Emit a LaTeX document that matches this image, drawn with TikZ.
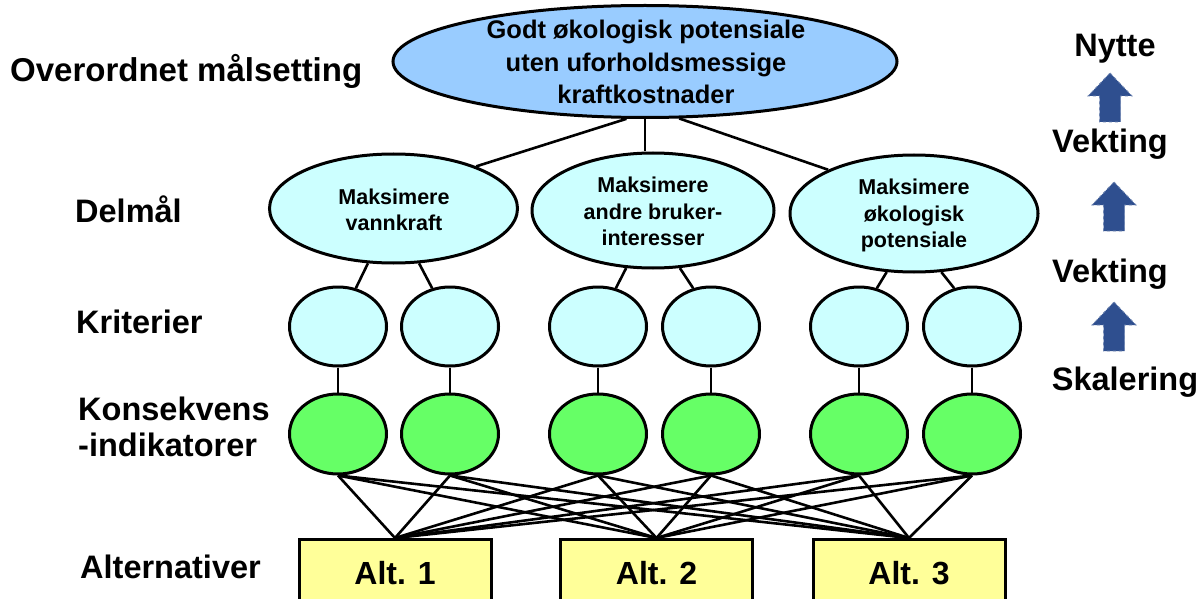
\documentclass[tikz,border=0pt]{standalone}
\usepackage{fontspec}
\setmainfont{Liberation Sans}
\usetikzlibrary{shapes.geometric}
\definecolor{topblue}{HTML}{99CCFF}
\definecolor{lightcyan}{HTML}{CCFFFF}
\definecolor{nodegreen}{HTML}{66FF66}
\definecolor{altyellow}{HTML}{FFFF99}
\definecolor{arrowblue}{HTML}{2F4F8F}
\newcommand\blockup[2]{\path[blockarrow] (#1,#2) -- ++(22,23) -- ++(-11.5,0) -- ++(0,26) -- ++(-21,0) -- ++(0,-26) -- ++(-11.5,0) -- cycle;}
\begin{document}
\begin{tikzpicture}[x=1pt,y=-1pt,
  bigfont/.style={font=\fontsize{32.5}{35.5}\selectfont\bfseries},
  lbl/.style={bigfont,inner sep=0pt,anchor=base west},
  rlbl/.style={bigfont,inner sep=0pt,anchor=base},
  topell/.style={ellipse,draw,line width=3pt,fill=topblue,minimum width=504pt,minimum height=112pt,inner sep=0pt},
  subell/.style={ellipse,draw,line width=3pt,fill=lightcyan,minimum width=248pt,inner sep=0pt},
  crit/.style={ellipse,draw,line width=3pt,fill=lightcyan,minimum width=97pt,minimum height=79pt,inner sep=0pt},
  ind/.style={ellipse,draw,line width=3pt,fill=nodegreen,minimum width=97pt,minimum height=80pt,inner sep=0pt},
  altbox/.style={rectangle,draw,line width=3pt,fill=altyellow,minimum width=192pt,minimum height=67pt,anchor=north,inner sep=0pt,font=\fontsize{32}{36}\selectfont\bfseries},
  toptext/.style={align=center,inner sep=0pt,font=\fontsize{25.5}{32.5}\selectfont\bfseries},
  subtext/.style={align=center,inner sep=0pt,font=\fontsize{21.5}{26.5}\selectfont\bfseries},
  conn/.style={line width=2.6pt},
  blockarrow/.style={fill=arrowblue,draw=arrowblue!70!white,line width=0.8pt,dashed}
]
\useasboundingbox (0,0) rectangle (1202,599);
\fill[white] (0,0) rectangle (1202,599);
\clip (0,0) rectangle (1202,599);

\node[topell] (top) at (645,61.5) {};
\node[subell,minimum height=109pt] (d1) at (393.5,208.5) {};
\node[subell,minimum width=242pt,minimum height=115pt] (d2) at (653,210.5) {};
\node[subell,minimum height=117pt] (d3) at (914,213.5) {};

\foreach \i/\x in {1/338,2/450,3/598,4/711,5/859,6/972}{
  \node[crit] (k\i) at (\x,326.5) {};
  \node[ind] (g\i) at (\x,434) {};
}
\node[altbox] (a1) at (395,538) {Alt. 1};
\node[altbox] (a2) at (656.5,538) {Alt. 2};
\node[altbox] (a3) at (909,538) {Alt. 3};

\draw[conn] (top.-108) -- (d1.27);
\draw[conn] (top.south) -- (top.south |- d2.north);
\draw[conn] (top.-59) -- (d3.153);
\draw[conn] (d1.-115) -- (k1.65);
\draw[conn] (d1.-65) -- (k2.115);
\draw[conn] (d2.-115) -- (k3.65);
\draw[conn] (d2.-65) -- (k4.115);
\draw[conn] (d3.-115) -- (k5.65);
\draw[conn] (d3.-65) -- (k6.115);
\foreach \i in {1,...,6}{
  \draw[conn] (k\i.south) -- (g\i.north);
  \foreach \a in {1,2,3}{
    \draw[conn] (g\i.south) -- (a\a.north);
  }
}

\node[toptext] (topt) at (646,62) {Godt økologisk potensiale\\uten uforholdsmessige\\kraftkostnader};
\node[subtext] (d1t) at (394,210) {Maksimere\\vannkraft};
\node[subtext] (d2t) at (653,211.5) {Maksimere\\andre bruker-\\interesser};
\node[subtext] (d3t) at (914,215.7) {Maksimere\\økologisk\\potensiale};

\node[lbl,font=\fontsize{33}{36}\selectfont\bfseries] (l1) at (10,82) {Overordnet målsetting};
\node[lbl] (l2) at (75,222) {Delmål};
\node[lbl] (l3) at (76,333) {Kriterier};
\node[bigfont,inner sep=0pt,anchor=west,align=left] (l4) at (78,426.7) {Konsekvens\\-indikatorer};
\node[lbl] (l5) at (80,578) {Alternativer};

\node[rlbl] (r1) at (1115,57) {Nytte};
\node[rlbl] (r2) at (1110,153) {Vekting};
\node[rlbl] (r3) at (1110,282) {Vekting};
\node[rlbl] (r4) at (1125,390) {Skalering};

\blockup{1110}{73}
\blockup{1114}{182}
\blockup{1114}{302}
\end{tikzpicture}
\end{document}
